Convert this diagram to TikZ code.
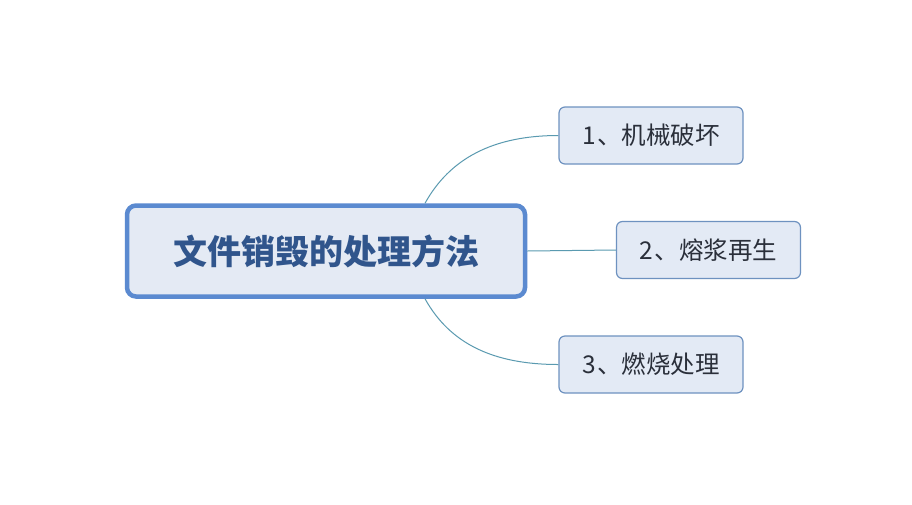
\documentclass[tikz,border=0pt]{standalone}
\usepackage{fontspec}
\newfontfamily\cjk{Noto Sans CJK SC}
\definecolor{mainborder}{HTML}{5B8AD0}
\definecolor{mainfill}{HTML}{E4EAF4}
\definecolor{maintext}{HTML}{30558C}
\definecolor{subborder}{HTML}{6E92C0}
\definecolor{subfill}{HTML}{E3EAF5}
\definecolor{subtext}{HTML}{2A2F3A}
\definecolor{linkcol}{HTML}{5A9AB0}
\begin{document}
\begin{tikzpicture}[x=1pt,y=-1pt,
  mainbox/.style={draw=mainborder,line width=4.5pt,fill=mainfill,rounded corners=9pt,
    minimum width=398pt,minimum height=91pt,inner sep=0pt,
    font=\cjk\bfseries\fontsize{34}{38}\selectfont,text=maintext},
  subbox/.style={draw=subborder,line width=1.2pt,fill=subfill,rounded corners=6pt,
    minimum width=184pt,minimum height=57pt,inner sep=0pt,
    font=\cjk\fontsize{24.5}{28}\selectfont,text=subtext},
  link/.style={draw=linkcol,line width=1pt}]
\path[fill=white] (0,0) rectangle (912,504);
\useasboundingbox (0,0) rectangle (912,504);
\node[mainbox] (m) at (326,251) {文件销毁的处理方法};
\node[subbox] (a) at (651,135.5) {1\kern1pt、机械破坏};
\node[subbox] (b) at (708.5,250) {2\kern1pt、熔浆再生};
\node[subbox] (c) at (651,364.5) {3\kern1pt、燃烧处理};
\coordinate (mt) at ([xshift=99pt]m.north);
\coordinate (mb) at ([xshift=99pt]m.south);
\draw[link] (mt) .. controls +(25,-45) and +(-65,0) .. (a.west);
\draw[link] (m.east) -- (b.west);
\draw[link] (mb) .. controls +(25,45) and +(-65,0) .. (c.west);
\end{tikzpicture}
\end{document}
